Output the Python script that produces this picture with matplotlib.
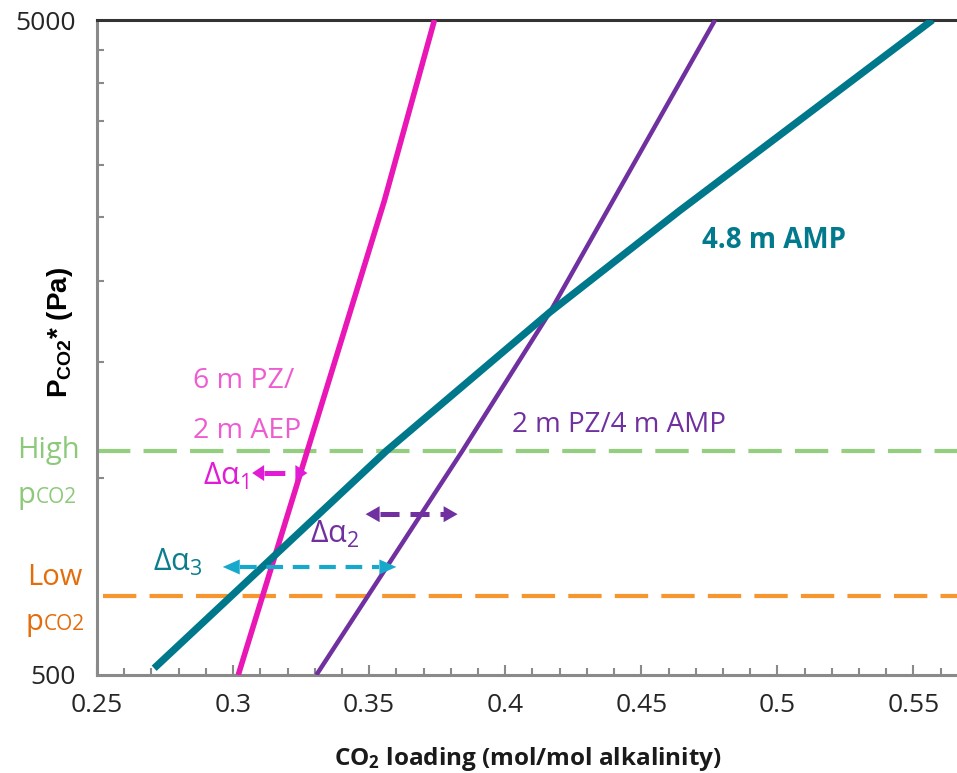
import numpy as np
import matplotlib
matplotlib.use("Agg")
import matplotlib.pyplot as plt
from matplotlib.ticker import FixedLocator, FixedFormatter, NullFormatter, MultipleLocator

plt.rcParams["font.family"] = ["Open Sans", "DejaVu Sans"]
plt.rcParams["mathtext.fontset"] = "custom"
plt.rcParams["mathtext.rm"] = "Open Sans"
plt.rcParams["mathtext.default"] = "regular"
plt.rcParams["lines.scale_dashes"] = False

# equilibrium curves: CO2 loading (mol/mol alkalinity) vs P*CO2 (Pa)
pz_aep_x = [0.3019, 0.3273, 0.3556, 0.374]
pz_aep_y = [500, 1100, 2650, 5000]

pz_amp_x = [0.3306, 0.3843, 0.4164, 0.4771]
pz_amp_y = [500, 1100, 1790, 5000]

amp_x = [0.271, 0.2997, 0.3564, 0.4164, 0.4642, 0.557]
amp_y = [512, 662, 1100, 1790, 2560, 5000]

# operating partial pressures
p_high = 1100
p_low = 660

# capacity arrows: (left tip, right tip, pressure)
d_alpha1 = (0.3070, 0.3273, 1017)
d_alpha2 = (0.3487, 0.3825, 880)
d_alpha3 = (0.2962, 0.3600, 731)

W, H = 957, 773
fig = plt.figure(figsize=(W / 100, H / 100), dpi=100)
ax = fig.add_axes([97 / W, 98 / H, (W - 97) / W, (675 - 20) / H])

TEAL = "#00788C"
PURPLE = "#7030A0"
PINK = "#E817B6"
GREEN = "#94CE7F"
ORANGE = "#F7962F"
CYAN = "#17A9CB"
MAGENTA = "#E01DD4"

ax.axhline(p_high, color=GREEN, lw=3, dashes=(24, 9.5), zorder=1)
ax.axhline(p_low, color=ORANGE, lw=3, dashes=(24, 9.5), xmin=0.007, zorder=1)

ax.plot(pz_aep_x, pz_aep_y, color=PINK, lw=4, solid_capstyle="butt", zorder=3)
ax.plot(pz_amp_x, pz_amp_y, color=PURPLE, lw=3.2, solid_capstyle="butt", zorder=3)
ax.plot(amp_x, amp_y, color=TEAL, lw=5.2, solid_capstyle="butt", zorder=4)


def double_arrow(spec, color, lw, dashes, head_len, head_w):
    x0, x1, y = spec
    hl = head_len / 2717.0
    ax.plot([x0 + hl, x1 - hl], [y, y], color=color, lw=lw, dashes=dashes,
            solid_capstyle="butt", dash_capstyle="butt", zorder=5)
    style = "-|>,head_length=%.3f,head_width=%.3f" % (head_len * 0.72 / 10, head_w * 0.72 / 20)
    for tip, base in ((x0, x0 + hl), (x1, x1 - hl)):
        ax.annotate("", xy=(tip, y), xytext=(base, y),
                    arrowprops=dict(arrowstyle=style, color=color, lw=0,
                                    mutation_scale=10, shrinkA=0, shrinkB=0),
                    zorder=5)


double_arrow(d_alpha1, MAGENTA, 3.6, (15, 8.6), 12, 16)
double_arrow(d_alpha2, PURPLE, 3.6, (13.7, 7.9), 14, 16)
double_arrow(d_alpha3, CYAN, 3.0, (12, 7), 17, 15)

ax.set_yscale("log")
ax.set_xlim(0.25, 0.566)
ax.set_ylim(500, 5000)

ax.yaxis.set_major_locator(FixedLocator([500, 5000]))
ax.yaxis.set_major_formatter(FixedFormatter(["500", "5000"]))
ax.yaxis.set_minor_locator(FixedLocator(np.arange(1000, 5000, 500)))
ax.yaxis.set_minor_formatter(NullFormatter())
ax.xaxis.set_major_locator(MultipleLocator(0.05))
ax.xaxis.set_minor_locator(MultipleLocator(0.01))
ax.xaxis.set_major_formatter(matplotlib.ticker.FuncFormatter(lambda v, p: ("%.2f" % v).rstrip("0")))

ax.tick_params(axis="both", which="both", direction="in", colors="#8a8a8a",
               labelcolor="#262626", labelsize=19, width=1.5)
ax.tick_params(axis="x", which="major", length=7, pad=13)
ax.tick_params(axis="x", which="minor", length=5)
ax.tick_params(axis="y", which="major", length=0, pad=15)
ax.tick_params(axis="y", which="minor", length=5)

for side in ("left", "bottom"):
    ax.spines[side].set_color("#8a8a8a")
    ax.spines[side].set_linewidth(2.2)
ax.spines["top"].set_color("#333333")
ax.spines["top"].set_linewidth(2.2)
ax.spines["right"].set_visible(False)


def put(x, y, s, **kw):
    fig.text(x / W, 1 - y / H, s, **kw)


# axis titles
put(60, 332, r"P$_{CO2}$* (Pa)", rotation=90, ha="center", va="center",
    fontsize=20, fontweight="bold", family=["Liberation Sans", "DejaVu Sans"])
put(528, 765, r"CO$_2$ loading (mol/mol alkalinity)", ha="center", va="baseline",
    fontsize=17.5, fontweight="bold", color="#1a1a1a")

# curve labels
put(702, 248, "4.8 m AMP", ha="left", va="baseline", fontsize=20, fontweight="bold", color="#007A8C")
put(512, 432, "2 m PZ/4 m AMP", ha="left", va="baseline", fontsize=20, color=PURPLE)
put(193, 388, "6 m PZ/", ha="left", va="baseline", fontsize=20.5, color="#EF5BD0")
put(193, 438, "2 m AEP", ha="left", va="baseline", fontsize=20.5, color="#EF5BD0")

# capacity labels
put(203, 485, r"Δα$_1$", ha="left", va="baseline", fontsize=22, color=MAGENTA)
put(310, 543, r"Δα$_2$", ha="left", va="baseline", fontsize=22, color=PURPLE)
put(153, 571, r"Δα$_3$", ha="left", va="baseline", fontsize=22, color="#0B7D8D")

# pressure level labels
put(48, 458, "High", ha="center", va="baseline", fontsize=21, color="#8CC97A")
put(18, 503, "p", ha="left", va="baseline", fontsize=21, color="#8CC97A")
put(36, 503, "CO2", ha="left", va="baseline", fontsize=15, color="#8CC97A")
put(55, 585, "Low", ha="center", va="baseline", fontsize=21, color="#E46C0A")
put(26, 630, "p", ha="left", va="baseline", fontsize=21, color="#E46C0A")
put(44, 630, "CO2", ha="left", va="baseline", fontsize=15, color="#E46C0A")

fig.savefig("out.png", dpi=100)
